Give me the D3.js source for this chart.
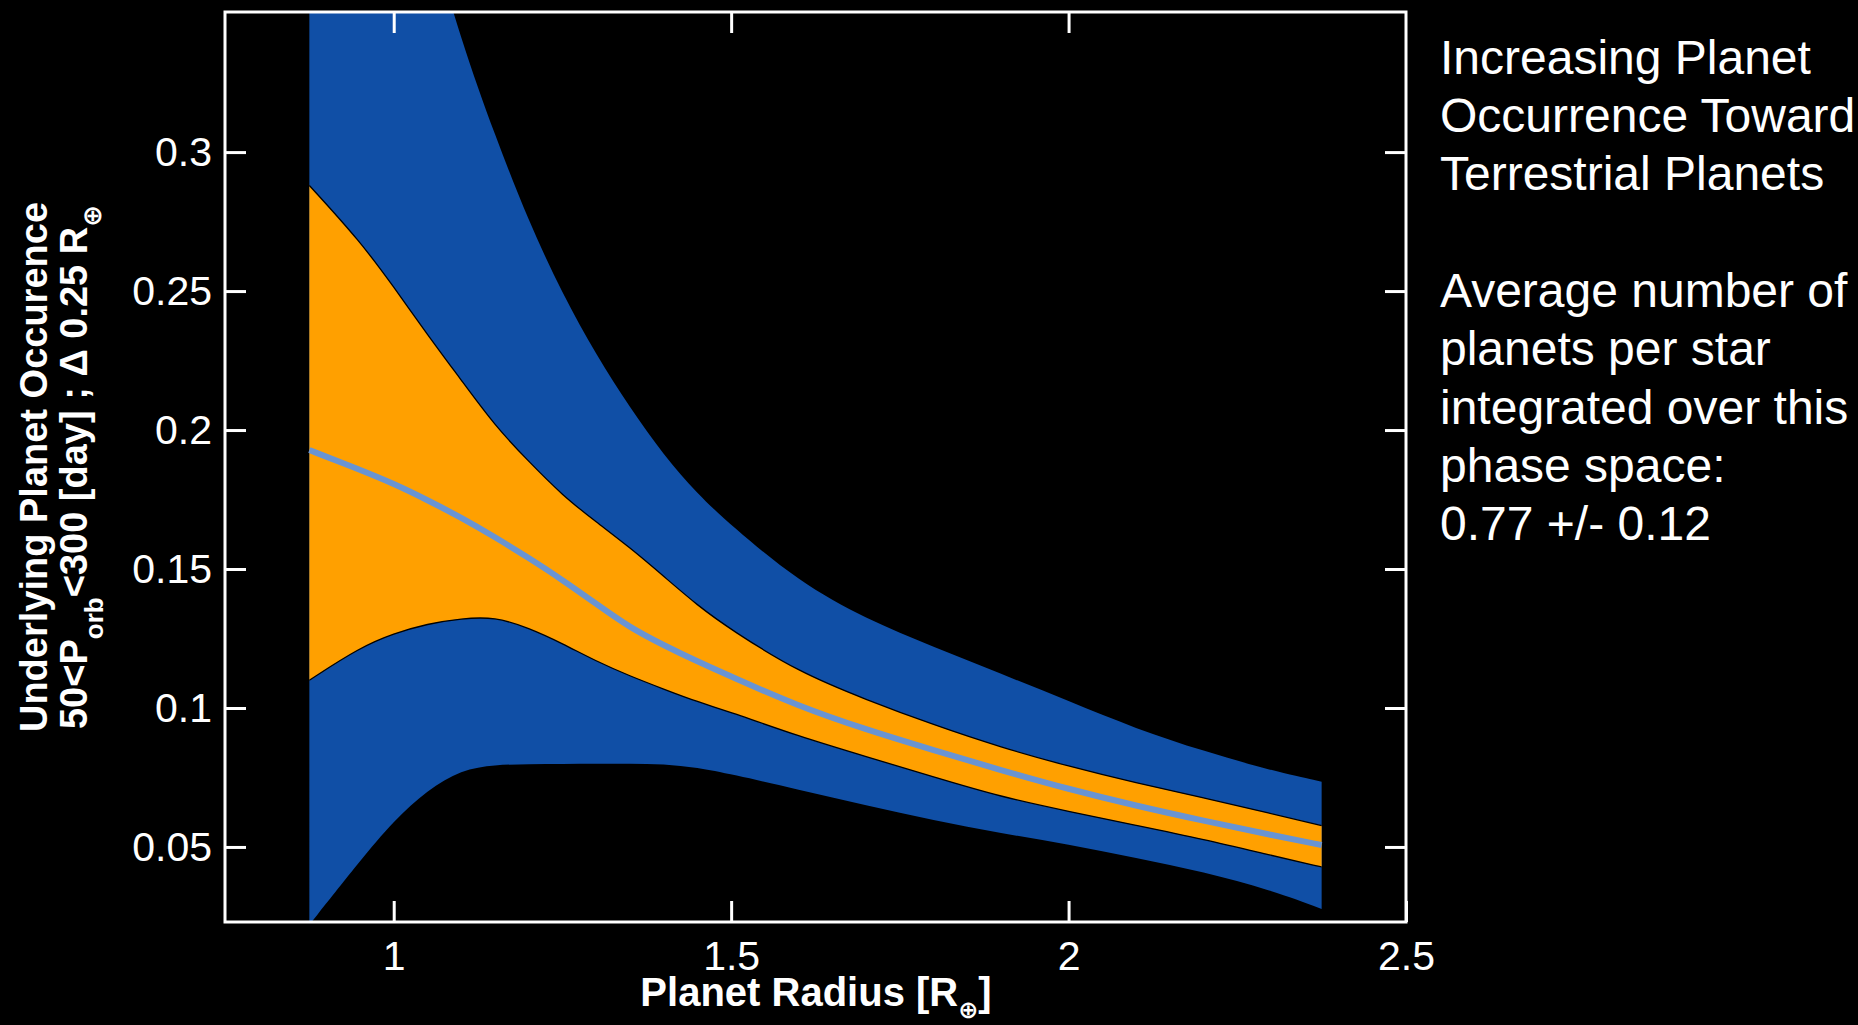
<!DOCTYPE html>
<html lang="en">
<head>
<meta charset="UTF-8">
<title>Underlying Planet Occurrence</title>
<script src="https://d3js.org/d3.v7.min.js"></script>
<style>
  body { margin: 0; background: #000; }
  svg text { font-family: "Liberation Sans", Arial, Helvetica, "DejaVu Sans", sans-serif; fill: #fff; }
</style>
</head>
<body>
<div id="chart"></div>
<script>
// planet radius (bin centres, R_earth)
const radius = [0.875, 0.95, 1.0, 1.05, 1.1, 1.15, 1.2, 1.25, 1.3, 1.35, 1.4, 1.45, 1.5, 1.6, 1.7, 1.8, 1.9, 2.0, 2.1, 2.2, 2.3, 2.375];
// outer (blue) band
const blueUpper = [0.54, 0.47, 0.425, 0.382, 0.34, 0.306, 0.275, 0.249, 0.227, 0.208, 0.191, 0.177, 0.1657, 0.1454, 0.132, 0.122, 0.1123, 0.1025, 0.0925, 0.0845, 0.0775, 0.0735];
const blueLower = [0.022, 0.045, 0.0595, 0.0705, 0.0778, 0.0796, 0.0798, 0.0799, 0.0799, 0.08, 0.0799, 0.0786, 0.0762, 0.0706, 0.065, 0.0596, 0.0549, 0.051, 0.0461, 0.041, 0.0345, 0.0277];
// inner (orange) band
const orangeUpper = [0.288, 0.268, 0.2515, 0.2343, 0.218, 0.2015, 0.1887, 0.1765, 0.1669, 0.1577, 0.1474, 0.1369, 0.1281, 0.1129, 0.103, 0.0939, 0.0858, 0.079, 0.073, 0.0677, 0.062, 0.0577];
const orangeLower = [0.110, 0.1218, 0.1268, 0.1303, 0.1322, 0.1328, 0.1288, 0.1232, 0.1168, 0.1115, 0.1068, 0.1022, 0.0985, 0.0898, 0.0825, 0.0752, 0.068, 0.0628, 0.0578, 0.0528, 0.047, 0.0428];
// median
const median = [0.1928, 0.1857, 0.1807, 0.1748, 0.1685, 0.1615, 0.154, 0.1461, 0.1375, 0.1289, 0.1226, 0.1167, 0.1113, 0.1006, 0.0922, 0.0848, 0.0776, 0.0708, 0.0648, 0.0594, 0.0543, 0.0507];

const xTicks = [1, 1.5, 2, 2.5];
const xTickLabels = ["1", "1.5", "2", "2.5"];
const yTicks = [0.05, 0.1, 0.15, 0.2, 0.25, 0.3];
const yTickLabels = ["0.05", "0.1", "0.15", "0.2", "0.25", "0.3"];

const noteLines1 = ["Increasing Planet", "Occurrence Toward", "Terrestrial Planets"];
const noteLines2 = ["Average number of", "planets per star", "integrated over this", "phase space:", "0.77 +/- 0.12"];

// layout
const width = 1858, height = 1025;
const plot = { left: 225, right: 1406, top: 12, bottom: 922 };

const svg = d3.select("#chart").append("svg")
    .attr("width", width)
    .attr("height", height)
    .style("background", "#000")
    .style("display", "block");

const x = d3.scaleLinear().domain([0.75, 2.5]).range([plot.left, plot.right]);
const y = d3.scaleLinear().domain([0.023, 0.3504]).range([plot.bottom, plot.top]);

svg.append("clipPath").attr("id", "plotclip")
    .append("rect")
    .attr("x", plot.left).attr("y", plot.top)
    .attr("width", plot.right - plot.left).attr("height", plot.bottom - plot.top);

const data = radius.map((r, i) => ({
    r: r, bu: blueUpper[i], bl: blueLower[i],
    ou: orangeUpper[i], ol: orangeLower[i], m: median[i]
}));

const curve = d3.curveBasis;
const g = svg.append("g").attr("clip-path", "url(#plotclip)");

// blue band
g.append("path").datum(data)
    .attr("fill", "#104FA6")
    .attr("d", d3.area().curve(curve).x(d => x(d.r)).y0(d => y(d.bl)).y1(d => y(d.bu)));

// orange band
g.append("path").datum(data)
    .attr("fill", "#FFA000")
    .attr("d", d3.area().curve(curve).x(d => x(d.r)).y0(d => y(d.ol)).y1(d => y(d.ou)));

// thin black edges of the orange band
["ou", "ol"].forEach(k => {
    g.append("path").datum(data)
        .attr("fill", "none")
        .attr("stroke", "#000")
        .attr("stroke-width", 1.3)
        .attr("d", d3.line().curve(curve).x(d => x(d.r)).y(d => y(d[k])));
});

// median line
g.append("path").datum(data)
    .attr("fill", "none")
    .attr("stroke", "#6994D2")
    .attr("stroke-width", 6)
    .attr("d", d3.line().curve(curve).x(d => x(d.r)).y(d => y(d.m)));

// axes (ticks drawn inward)
function styleAxis(sel) {
    sel.attr("color", "#fff").attr("font-family", null).attr("font-size", null);
    sel.select(".domain").remove();
    sel.selectAll(".tick line").attr("stroke-width", 3);
    sel.selectAll(".tick text").attr("font-size", 41).attr("fill", "#fff");
}

svg.append("g")
    .attr("transform", `translate(${plot.left},0)`)
    .call(d3.axisLeft(y).tickValues(yTicks).tickSize(-21).tickPadding(13)
        .tickFormat((d, i) => yTickLabels[i]))
    .call(styleAxis);

svg.append("g")
    .attr("transform", `translate(${plot.right},0)`)
    .call(d3.axisRight(y).tickValues(yTicks).tickSize(-21).tickFormat(""))
    .call(styleAxis);

svg.append("g")
    .attr("transform", `translate(0,${plot.bottom})`)
    .call(d3.axisBottom(x).tickValues(xTicks).tickSize(-21).tickPadding(19)
        .tickFormat((d, i) => xTickLabels[i]))
    .call(styleAxis);

svg.append("g")
    .attr("transform", `translate(0,${plot.top})`)
    .call(d3.axisTop(x).tickValues(xTicks.slice(0, 3)).tickSize(-21).tickFormat(""))
    .call(styleAxis);

// frame
svg.append("rect")
    .attr("x", plot.left).attr("y", plot.top)
    .attr("width", plot.right - plot.left).attr("height", plot.bottom - plot.top)
    .attr("fill", "none").attr("stroke", "#fff").attr("stroke-width", 3);

// x title
const xt = svg.append("text")
    .attr("x", 816)
    .attr("y", 1006)
    .attr("text-anchor", "middle")
    .attr("font-weight", "bold")
    .attr("font-size", 40);
xt.append("tspan").text("Planet Radius [R");
xt.append("tspan").attr("dy", 12).attr("font-size", 24).text("\u2295");
xt.append("tspan").attr("dy", -12).text("]");

// y title, two lines
const yMid = (plot.top + plot.bottom) / 2;
svg.append("text")
    .attr("transform", `translate(47,${yMid}) rotate(-90)`)
    .attr("text-anchor", "middle")
    .attr("font-weight", "bold")
    .attr("font-size", 38)
    .text("Underlying Planet Occurence");

const yt2 = svg.append("text")
    .attr("transform", `translate(87,${yMid}) rotate(-90)`)
    .attr("text-anchor", "middle")
    .attr("font-weight", "bold")
    .attr("font-size", 38);
yt2.append("tspan").text("50<P");
yt2.append("tspan").attr("dy", 16).attr("font-size", 26).text("orb");
yt2.append("tspan").attr("dy", -16).text("<300 [day] ; \u0394 0.25 R");
yt2.append("tspan").attr("dy", 14).attr("font-size", 26).text("\u2295");

// note on the right
const note = svg.append("g").attr("font-size", 48);
noteLines1.forEach((t, i) => {
    note.append("text").attr("x", 1440).attr("y", 74 + i * 58).text(t);
});
noteLines2.forEach((t, i) => {
    note.append("text").attr("x", 1440).attr("y", 307 + i * 58.3).text(t);
});
</script>
</body>
</html>
